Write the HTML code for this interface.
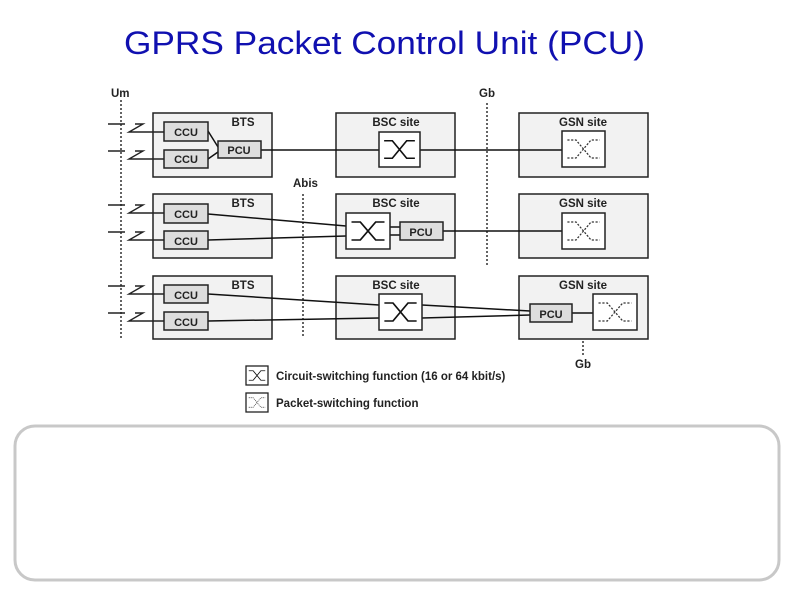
<!DOCTYPE html>
<html><head><meta charset="utf-8"><style>
html,body{margin:0;padding:0;background:#fff;width:794px;height:595px;overflow:hidden}
svg{display:block}
</style></head><body>
<svg width="794" height="595" viewBox="0 0 794 595" xmlns="http://www.w3.org/2000/svg" font-family="Liberation Sans, Arial, sans-serif">
<defs>
<symbol id="cs" viewBox="0 0 40 36" preserveAspectRatio="none"><path d="M5 9 H13 L27 27 H35 M5 27 H13 L27 9 H35" fill="none" stroke="#111" stroke-width="1.6"/></symbol>
<symbol id="ps" viewBox="0 0 40 36" preserveAspectRatio="none"><path d="M5 9 H13 L27 27 H35 M5 27 H13 L27 9 H35" fill="none" stroke="#333" stroke-width="1.2" stroke-dasharray="2,1.5"/></symbol>
<g id="ant"><path d="M-14 0 H3 M13 0 H21 L7 8 H42" fill="none" stroke="#222" stroke-width="1.4"/></g>
</defs>
<text x="124" y="54" font-size="32" fill="#1010b0" textLength="521" lengthAdjust="spacingAndGlyphs">GPRS Packet Control Unit (PCU)</text>

<g font-weight="bold" font-size="11.5" fill="#222">
<text x="111" y="97">Um</text>
<text x="479" y="97">Gb</text>
<text x="293" y="187">Abis</text>
<text x="575" y="368">Gb</text>
</g>
<g stroke="#222" stroke-width="1.4" stroke-dasharray="2,2">
<line x1="121" y1="100" x2="121" y2="338"/>
<line x1="303" y1="194" x2="303" y2="338"/>
<line x1="487" y1="103" x2="487" y2="265"/>
<line x1="583" y1="293" x2="583" y2="355"/>
</g>

<g fill="#f2f2f2" stroke="#222" stroke-width="1.5">
<rect x="153" y="113" width="119" height="64"/>
<rect x="153" y="194" width="119" height="64"/>
<rect x="153" y="276" width="119" height="63"/>
<rect x="336" y="113" width="119" height="64"/>
<rect x="336" y="194" width="119" height="64"/>
<rect x="336" y="276" width="119" height="63"/>
<rect x="519" y="113" width="129" height="64"/>
<rect x="519" y="194" width="129" height="64"/>
<rect x="519" y="276" width="129" height="63"/>
</g>
<g font-weight="bold" font-size="11.5" fill="#222" text-anchor="middle">
<text x="243" y="126">BTS</text><text x="243" y="207">BTS</text><text x="243" y="289">BTS</text>
<text x="396" y="126">BSC site</text><text x="396" y="207">BSC site</text><text x="396" y="289">BSC site</text>
<text x="583" y="126">GSN site</text><text x="583" y="207">GSN site</text><text x="583" y="289">GSN site</text>
</g>

<use href="#ant" x="122" y="124"/>
<use href="#ant" x="122" y="151"/>
<use href="#ant" x="122" y="205"/>
<use href="#ant" x="122" y="232"/>
<use href="#ant" x="122" y="286"/>
<use href="#ant" x="122" y="313"/>

<g stroke="#111" stroke-width="1.5" fill="none">
<path d="M208 131 L218 147 M208 159 L218 152"/>
<line x1="261" y1="150" x2="379" y2="150"/>
<line x1="420" y1="150" x2="562" y2="150"/>
<line x1="208" y1="214" x2="346" y2="226"/>
<line x1="208" y1="240" x2="346" y2="236"/>
<path d="M390 227 H400 M390 235 H400"/>
<line x1="443" y1="231" x2="562" y2="231"/>
<line x1="208" y1="294" x2="379" y2="305"/>
<line x1="208" y1="321" x2="379" y2="318"/>
<line x1="422" y1="305" x2="530" y2="311"/>
<line x1="422" y1="318" x2="530" y2="315"/>
<line x1="572" y1="313" x2="593" y2="313"/>
</g>

<g fill="#ddd" stroke="#222" stroke-width="1.5">
<rect x="164" y="122" width="44" height="19"/>
<rect x="164" y="150" width="44" height="18"/>
<rect x="218" y="141" width="43" height="17"/>
<rect x="164" y="204" width="44" height="19"/>
<rect x="164" y="231" width="44" height="18"/>
<rect x="164" y="285" width="44" height="18"/>
<rect x="164" y="312" width="44" height="18"/>
<rect x="400" y="222" width="43" height="18"/>
<rect x="530" y="304" width="42" height="18"/>
</g>
<g font-weight="bold" font-size="11" fill="#222" text-anchor="middle">
<text x="186" y="136">CCU</text><text x="186" y="163">CCU</text><text x="239" y="154">PCU</text>
<text x="186" y="218">CCU</text><text x="186" y="245">CCU</text>
<text x="186" y="299">CCU</text><text x="186" y="326">CCU</text>
<text x="421" y="236">PCU</text><text x="551" y="318">PCU</text>
</g>

<g fill="#fff" stroke="#222" stroke-width="1.5">
<rect x="379" y="132" width="41" height="35"/>
<rect x="346" y="213" width="44" height="36"/>
<rect x="379" y="294" width="43" height="36"/>
<rect x="562" y="131" width="43" height="36"/>
<rect x="562" y="213" width="43" height="36"/>
<rect x="593" y="294" width="44" height="36"/>
</g>
<use href="#cs" x="379" y="132" width="41" height="35"/>
<use href="#cs" x="346" y="213" width="44" height="36"/>
<use href="#cs" x="379" y="294" width="43" height="36"/>
<use href="#ps" x="562" y="131" width="43" height="36"/>
<use href="#ps" x="562" y="213" width="43" height="36"/>
<use href="#ps" x="593" y="294" width="44" height="36"/>

<rect x="246" y="366" width="22" height="19" fill="#fff" stroke="#222" stroke-width="1.3"/>
<use href="#cs" x="246" y="366" width="22" height="19"/>
<rect x="246" y="393" width="22" height="19" fill="#fff" stroke="#222" stroke-width="1.3"/>
<use href="#ps" x="246" y="393" width="22" height="19"/>
<g font-size="11.5" fill="#222" font-weight="bold">
<text x="276" y="380">Circuit-switching function (16 or 64 kbit/s)</text>
<text x="276" y="407">Packet-switching function</text>
</g>

<rect x="15" y="426" width="764" height="154" rx="20" ry="20" fill="#fff" stroke="#c8c8c8" stroke-width="3"/>
</svg>
</body></html>
